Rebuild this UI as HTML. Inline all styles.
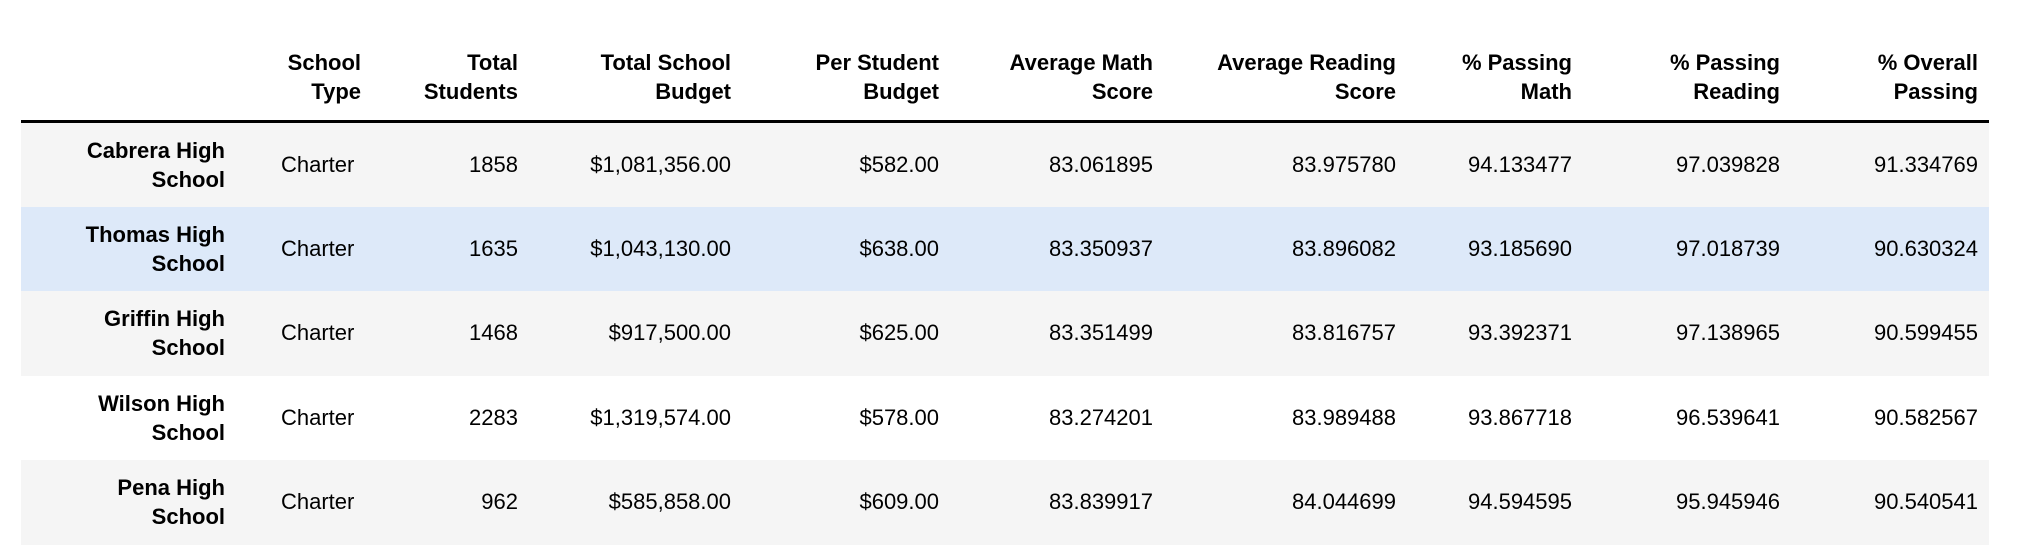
<!DOCTYPE html>
<html><head><meta charset="utf-8">
<style>
body{margin:0;background:#fff;width:2024px;height:560px;position:relative;overflow:hidden;font-family:"Liberation Sans",Arial,sans-serif;color:#000;}
.c{position:absolute;font-size:22px;line-height:29px;white-space:nowrap}
.h{font-weight:bold}
.row{position:absolute;left:21px;width:1968px}
</style></head>
<body>
<div id="hdrline" style="position:absolute;left:21px;width:1968px;top:120px;height:3px;background:#000"></div>
<script>
const headers=[["School","Type"],["Total","Students"],["Total School","Budget"],["Per Student","Budget"],["Average Math","Score"],["Average Reading","Score"],["% Passing","Math"],["% Passing","Reading"],["% Overall","Passing"]];
const schools=["Cabrera High","Thomas High","Griffin High","Wilson High","Pena High"];
const types=["Charter","Charter","Charter","Charter","Charter"];
const students=["1858","1635","1468","2283","962"];
const budgets=["$1,081,356.00","$1,043,130.00","$917,500.00","$1,319,574.00","$585,858.00"];
const perStudent=["$582.00","$638.00","$625.00","$578.00","$609.00"];
const avgMath=["83.061895","83.350937","83.351499","83.274201","83.839917"];
const avgReading=["83.975780","83.896082","83.816757","83.989488","84.044699"];
const passMath=["94.133477","93.185690","93.392371","93.867718","94.594595"];
const passReading=["97.039828","97.018739","97.138965","96.539641","95.945946"];
const passOverall=["91.334769","90.630324","90.599455","90.582567","90.540541"];
const rightEdges=[225,361,518,731,939,1153,1396,1572,1780,1978];
const bgs=["#f5f5f5","#dde9f9","#f5f5f5","#ffffff","#f5f5f5"];
const rowTop=123,rowH=84.2;
function cell(txt,right,top,bold,left){
  const d=document.createElement('div');
  d.className='c'+(bold?' h':'');
  d.innerHTML=txt;
  if(left!==undefined){d.style.left=left+'px';}else{d.style.right=(2024-right)+'px';d.style.textAlign='right';}
  d.style.top=top+'px';
  document.body.appendChild(d);return d;
}
headers.forEach((h,i)=>{
  const d=cell(h[0]+'<br>'+h[1],rightEdges[i+1],48,true);
  
  
});
schools.forEach((s,r)=>{
  const top=rowTop+r*rowH;
  const bg=document.createElement('div');
  bg.className='row';bg.style.top=top+'px';bg.style.height=Math.ceil(rowH)+'px';bg.style.background=bgs[r];
  
  
  document.body.appendChild(bg);
  const idx=cell(s+'<br>School',rightEdges[0],top+13,true);
  
  
  const cy=top+27;
  const t=cell(types[r],0,cy,false,281);
  
  
  const vals=[students[r],budgets[r],perStudent[r],avgMath[r],avgReading[r],passMath[r],passReading[r],passOverall[r]];
  vals.forEach((v,k)=>{
    const d=cell(v,rightEdges[k+2],cy,false);
    
    
  });
});
document.body.appendChild(document.getElementById('hdrline'));
</script>
</body></html>
